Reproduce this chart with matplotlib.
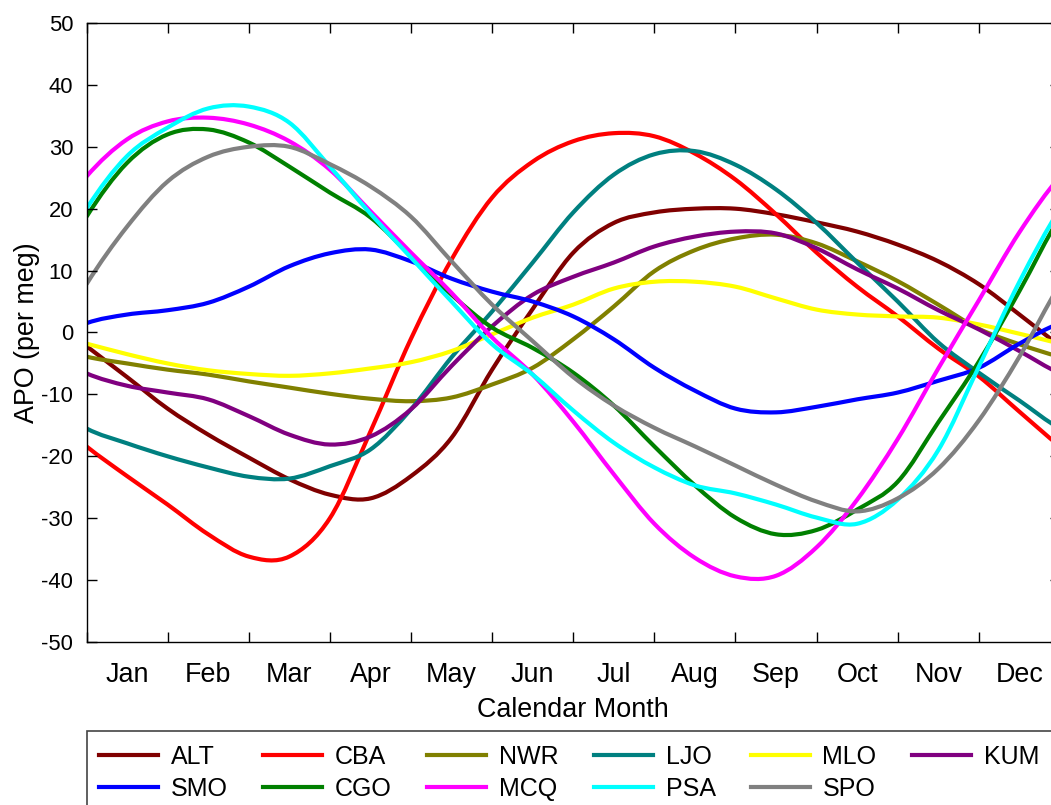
import matplotlib
matplotlib.use("Agg")
import matplotlib.pyplot as plt
from matplotlib.patches import Rectangle, PathPatch
from matplotlib.path import Path
from matplotlib.lines import Line2D
import numpy as np

plt.rcParams['font.family'] = ['Liberation Sans', 'DejaVu Sans']
plt.rcParams['axes.unicode_minus'] = False

# half-month steps, Jan 1 .. Dec 31
month = np.arange(0, 12.5, 0.5)

ALT = [-2.2, -7.2, -12.3, -16.5, -20.2, -23.7, -26.2, -26.8, -23.2, -17.0, -6.0, 3.8, 12.9,
       17.7, 19.4, 20.0, 20.0, 19.1, 17.8, 16.3, 14.2, 11.5, 7.8, 2.9, -2.2]
CBA = [-18.4, -23.2, -27.8, -32.6, -36.2, -36.2, -30.0, -16.0, -1.0, 11.8, 21.8, 27.6, 30.9,
       32.2, 31.7, 28.9, 24.7, 19.1, 12.9, 7.4, 2.6, -2.6, -7.1, -12.8, -18.4]
NWR = [-3.9, -5.0, -6.0, -6.8, -7.9, -8.9, -9.9, -10.7, -11.1, -10.5, -8.4, -5.7, -1.1,
       4.2, 9.9, 13.3, 15.2, 15.8, 14.4, 11.5, 8.3, 4.5, 0.6, -1.9, -3.9]
LJO = [-15.5, -17.9, -20.0, -21.8, -23.3, -23.6, -21.6, -18.9, -12.4, -4.0, 3.4, 11.3, 19.4,
       25.5, 28.8, 29.3, 27.1, 23.1, 17.7, 11.3, 5.0, -1.6, -6.5, -11.0, -15.5]
MLO = [-1.8, -3.5, -5.0, -6.1, -6.7, -7.0, -6.6, -5.8, -4.8, -3.0, -0.3, 2.4, 4.5,
       7.1, 8.2, 8.2, 7.4, 5.5, 3.7, 2.9, 2.6, 2.4, 1.3, -0.2, -1.8]
KUM = [-6.6, -8.6, -9.7, -10.8, -13.5, -16.5, -18.1, -16.8, -12.4, -5.4, 1.0, 6.1, 9.0,
       11.3, 13.9, 15.5, 16.3, 16.0, 13.6, 10.2, 7.1, 3.6, 0.5, -3.0, -6.6]
SMO = [1.5, 2.9, 3.6, 4.8, 7.4, 10.7, 12.8, 13.4, 11.5, 8.7, 6.6, 5.0, 2.6,
       -1.1, -5.7, -9.4, -12.3, -12.9, -12.0, -10.8, -9.7, -7.8, -5.7, -1.8, 1.5]
CGO = [18.7, 27.4, 32.0, 32.8, 30.7, 26.8, 22.6, 18.6, 12.4, 6.1, 0.8, -2.5, -6.5,
       -11.8, -18.4, -24.7, -29.9, -32.6, -31.9, -28.6, -24.1, -14.5, -4.7, 6.7, 18.7]
MCQ = [25.2, 31.2, 34.1, 34.7, 33.6, 30.9, 26.3, 19.6, 12.9, 6.4, -0.8, -6.8, -14.4,
       -22.9, -30.9, -36.4, -39.4, -39.3, -34.7, -27.0, -17.2, -5.8, 5.2, 16.2, 25.2]
PSA = [20.0, 28.5, 33.1, 36.2, 36.5, 33.9, 26.8, 19.2, 12.1, 5.0, -1.9, -6.8, -12.6,
       -17.8, -21.8, -24.7, -26.0, -27.8, -29.9, -30.9, -27.0, -19.0, -5.5, 8.2, 20.0]
SPO = [7.8, 17.1, 24.4, 28.4, 30.0, 30.0, 27.2, 23.6, 18.7, 11.5, 4.5, -1.4, -7.2,
       -11.8, -15.4, -18.4, -21.5, -24.6, -27.3, -28.9, -26.8, -22.0, -14.2, -3.9, 7.8]

stations = ["ALT", "CBA", "NWR", "LJO", "MLO", "KUM", "SMO", "CGO", "MCQ", "PSA", "SPO"]
series = [ALT, CBA, NWR, LJO, MLO, KUM, SMO, CGO, MCQ, PSA, SPO]
colors = ["#800000", "#ff0000", "#808000", "#008080", "#ffff00", "#800080",
          "#0000ff", "#008000", "#ff00ff", "#00ffff", "#808080"]

month_names = ["Jan", "Feb", "Mar", "Apr", "May", "Jun",
               "Jul", "Aug", "Sep", "Oct", "Nov", "Dec"]
yticks = list(range(-50, 51, 10))


def smooth_path(x, y):
    # cubic bezier through every read value; the seasonal cycle wraps at 12
    x = np.asarray(x, float)
    y = np.asarray(y, float)
    xp = np.concatenate([[x[-2] - 12], x, [x[1] + 12]])
    yp = np.concatenate([[y[-2]], y, [y[1]]])
    pts = np.column_stack([xp, yp])
    verts = [tuple(pts[1])]
    codes = [Path.MOVETO]
    for i in range(1, len(x)):
        p0, p1, p2, p3 = pts[i - 1], pts[i], pts[i + 1], pts[i + 2]
        verts += [tuple(p1 + (p2 - p0) / 6), tuple(p2 - (p3 - p1) / 6), tuple(p2)]
        codes += [Path.CURVE4] * 3
    return Path(verts, codes)


W, H = 1051, 805
fig = plt.figure(figsize=(W / 100, H / 100), dpi=100)
ax = fig.add_axes([86.5 / W, 1 - 642 / H, (1060 - 86.5) / W, (642 - 23) / H])

handles = {}
for name, vals, c in zip(stations, series, colors):
    ax.add_patch(PathPatch(smooth_path(month, vals), fill=False, edgecolor=c,
                           lw=3.0, joinstyle='round', capstyle='butt'))
    handles[name] = Line2D([], [], color=c, lw=3.0)

ax.set_xlim(0, 12)
ax.set_ylim(-50, 50)

ax.set_xticks(np.arange(0, 13))
ax.set_xticklabels([])
ax.set_xticks(np.arange(0.5, 12, 1), minor=True)
ax.set_xticklabels(month_names, minor=True)
ax.tick_params(axis='x', which='major', direction='in', length=7, width=1, top=True)
ax.tick_params(axis='x', which='minor', length=0, pad=14.4, labelsize=19.4)

ax.set_yticks(yticks)
ax.set_yticklabels([str(v) for v in yticks])
ax.tick_params(axis='y', direction='in', length=7.5, width=1, pad=9.5, labelsize=15.8,
               right=True)

for s in ['left', 'top', 'bottom', 'right']:
    ax.spines[s].set_linewidth(1.0)

ax.set_xlabel("Calendar Month", fontsize=19.4)
ax.xaxis.set_label_coords(0.5, -(697 - 642) / 619)
ax.set_ylabel("APO (per meg)", fontsize=19.4)
ax.yaxis.set_label_coords(-(86.5 - 40) / 973.5, 0.5)

# legend box runs off the bottom and right of the figure
fig.patches.append(Rectangle((86.5 / W, -0.1), 1.0, 0.1 + (805 - 731) / H,
                             transform=fig.transFigure, fill=False,
                             edgecolor='#444444', lw=1.2))

# legend fills column by column, so order names to read row by row
ncol = 6
order = [stations[r * ncol + c] for c in range(ncol) for r in range(2)
         if r * ncol + c < len(stations)]
fig.legend([handles[n] for n in order], order, ncol=ncol, loc='upper left',
           bbox_to_anchor=(99 / W, 1 - 745 / H), frameon=False,
           fontsize=18, handlelength=2.36, handletextpad=0.52,
           columnspacing=1.4, labelspacing=0.3, borderpad=0, borderaxespad=0)

fig.savefig("out.png", dpi=100)
